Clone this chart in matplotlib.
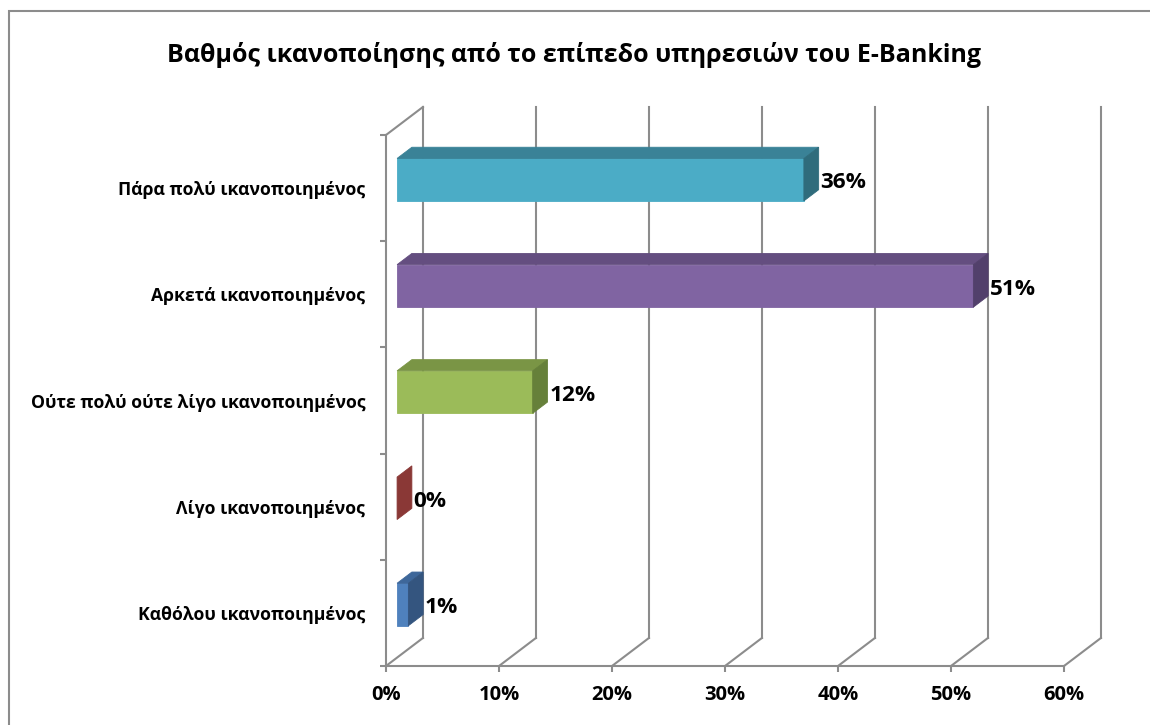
import numpy as np
import matplotlib
matplotlib.use("Agg")
import matplotlib.pyplot as plt
from matplotlib.patches import Rectangle

plt.rcParams['font.family'] = ['Open Sans', 'DejaVu Sans']

# survey answers, bottom to top
categories = [
    "Καθόλου ικανοποιημένος",
    "Λίγο ικανοποιημένος",
    "Ούτε πολύ ούτε λίγο ικανοποιημένος",
    "Αρκετά ικανοποιημένος",
    "Πάρα πολύ ικανοποιημένος",
]
values = [1, 0, 12, 51, 36]          # percent
value_labels = ["1%", "0%", "12%", "51%", "36%"]
x_ticks = [0, 10, 20, 30, 40, 50, 60]
x_ticklabels = ["0%", "10%", "20%", "30%", "40%", "50%", "60%"]
title = "Βαθμός ικανοποίησης από το επίπεδο υπηρεσιών του E-Banking"

# (front, top, side) shades for each bar
bar_colors = [
    ("#4F81BD", "#3E679A", "#34557F"),
    ("#C0504D", "#943E3B", "#8A3836"),
    ("#9BBB59", "#7A9545", "#66803A"),
    ("#8064A2", "#644E80", "#52406B"),
    ("#4BACC6", "#3A8297", "#2F6C7C"),
]

# fake 3d: offset of the back wall in data units
DX, DY = 3.27, 0.264
F1, F2 = 0.3, 0.7      # bar depth span (fraction of the floor depth)
BAR_H = 0.4
GRID = "#8C8C8C"

fig = plt.figure(figsize=(11.5, 7.25), dpi=100)
fig.patches.append(Rectangle((9 / 1150, -0.1), 1.2, 1 - 11 / 725 + 0.1,
                             transform=fig.transFigure, fill=False,
                             edgecolor="#8C8C8C", linewidth=1.5))

ax = fig.add_axes([386 / 1150, 59 / 725, 678 / 1150, 531 / 725])
ax.set_xlim(0, 60)
ax.set_ylim(0, 5)
n = len(categories)

# back wall verticals and floor diagonals
for t in x_ticks:
    ax.plot([t + DX, t + DX], [DY, n + DY], color=GRID, lw=1.5, zorder=1, clip_on=False)
    ax.plot([t, t + DX], [0, DY], color=GRID, lw=1.5, zorder=1, clip_on=False)
# left wall top edge
ax.plot([0, DX], [n, n + DY], color=GRID, lw=1.5, zorder=1, clip_on=False)

for i, (v, lab, (cf, ct, cs)) in enumerate(zip(values, value_labels, bar_colors)):
    y0 = i + 0.5 - BAR_H / 2 + F1 * DY
    y1 = y0 + BAR_H
    x0 = F1 * DX
    x1 = x0 + v
    ddx, ddy = (F2 - F1) * DX, (F2 - F1) * DY
    if v > 0:
        ax.fill([x0, x1, x1, x0], [y0, y0, y1, y1], color=cf, lw=0.6,
                ec=cf, zorder=3, clip_on=False)
        ax.fill([x0, x1, x1 + ddx, x0 + ddx], [y1, y1, y1 + ddy, y1 + ddy],
                color=ct, lw=0.6, ec=ct, zorder=3, clip_on=False)
    ax.fill([x1, x1 + ddx, x1 + ddx, x1], [y0, y0 + ddy, y1 + ddy, y1],
            color=cs, lw=0.6, ec=cs, zorder=3, clip_on=False)
    ax.text(x1 + ddx + 0.15, i + 0.5 + F1 * DY - 0.03, lab, ha="left", va="center",
            fontsize=16.2, fontweight="bold", color="black", zorder=4)

for s in ("top", "right"):
    ax.spines[s].set_visible(False)
for s in ("left", "bottom"):
    ax.spines[s].set_color(GRID)
    ax.spines[s].set_linewidth(1.5)
ax.set_facecolor("none")

ax.set_xticks(x_ticks, x_ticklabels)
ax.set_yticks(np.arange(n + 1), [""] * (n + 1))
ax.set_yticks(np.arange(n) + 0.5, categories, minor=True)
ax.tick_params(axis="x", length=4.5, width=1.5, color=GRID, pad=9,
               labelsize=14.5)
ax.tick_params(axis="y", which="major", length=4.5, width=1.5, color=GRID)
ax.tick_params(axis="y", which="minor", length=0, pad=15, labelsize=12.7)
for t in ax.get_xticklabels() + ax.get_yticklabels(minor=True):
    t.set_fontweight("bold")

fig.text(0.499, 0.924, title, ha="center", va="center", fontsize=18,
         fontweight="bold")

fig.savefig("out.png", dpi=100)
